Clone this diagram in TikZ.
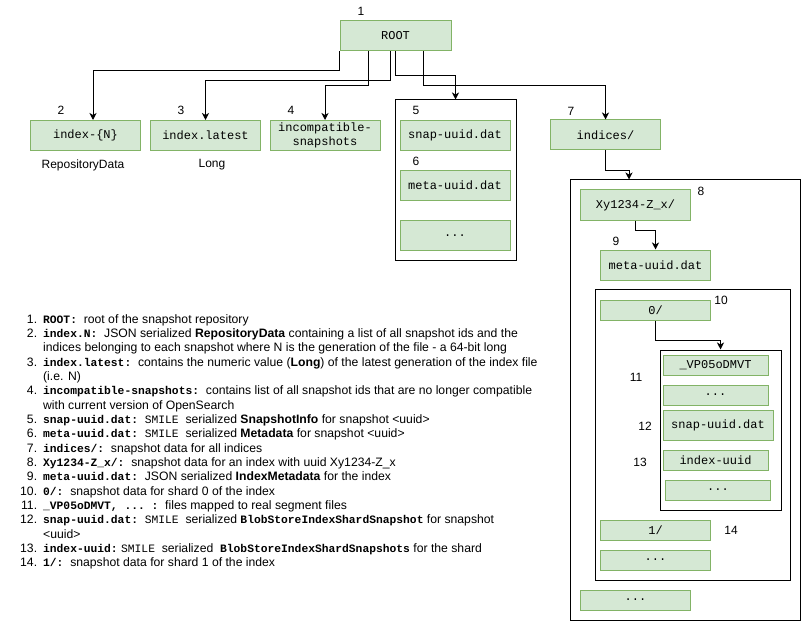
\documentclass[tikz,border=0pt]{standalone}
\usepackage{fontspec}
\setmainfont{Liberation Sans}
\setmonofont{Liberation Mono}
\usetikzlibrary{arrows.meta}

\definecolor{boxfill}{HTML}{D5E8D4}
\definecolor{boxline}{HTML}{82B366}
\newcommand{\fname}[1]{{\fontsize{11.3bp}{14.35bp}\selectfont\ttfamily\bfseries #1}}
\newcommand{\smilefmt}{{\fontsize{11.3bp}{14.35bp}\selectfont\ttfamily SMILE}}

\begin{document}
\begin{tikzpicture}[x=1bp, y=-1bp,
  box/.style={draw=boxline, fill=boxfill, line width=1bp, minimum width=110bp, minimum height=30bp,
    inner sep=0pt, align=center, font=\fontsize{12bp}{14.3bp}\selectfont\ttfamily},
  smallbox/.style={box, minimum height=20bp},
  group/.style={draw=black, line width=1bp, inner sep=0pt},
  num/.style={inner sep=0pt, font=\fontsize{12bp}{14bp}\selectfont},
  link/.style={draw, line width=1bp, -{Stealth[length=7bp, width=7bp, inset=2bp]}}]
\useasboundingbox (0,0) rectangle (801,621);

% Containers
\node[group, minimum width=121bp, minimum height=160bp] (snapgroup) at (455.5,180) {};
\node[group, minimum width=230bp, minimum height=440bp] (idxgroup) at (685,400) {};
\node[group, minimum width=195bp, minimum height=290bp] (shardgroup) at (692.5,435) {};
\node[group, minimum width=121bp, minimum height=160bp] (filegroup) at (720.5,430) {};

% Top level
\node[box, minimum width=111bp] (root) at (395.5,36) {ROOT};
\node[box] (idxn) at (85.5,135.5) {index-\{N\}};
\node[box] (latest) at (205.5,135.5) {index.latest};
\node[box] (incompat) at (325,135.5) {incompatible-\\snapshots};
\node[box] (snap) at (455,135.5) {snap-uuid.dat};
\node[box] (meta) at (455,185.5) {meta-uuid.dat};
\node[box] (dotsa) at (455,235.5) {...};
\node[box] (indices) at (605.5,135) {indices/};

% Index folder
\node[box] (xy) at (635.5,205) {Xy1234-Z\_x/};
\node[box] (imeta) at (655.5,265) {meta-uuid.dat};
\node[smallbox] (shard0) at (655.5,310) {0/};
\node[smallbox, minimum width=105bp] (vp) at (715.5,365) {\_VP05oDMVT};
\node[smallbox, minimum width=105bp] (dotsb) at (715.5,395) {...};
\node[box] (ssnap) at (718,425) {snap-uuid.dat};
\node[smallbox, minimum width=105bp] (iuuid) at (715.5,460) {index-uuid};
\node[smallbox, minimum width=105bp] (dotsc) at (718,490) {...};
\node[smallbox] (shard1) at (655.5,530) {1/};
\node[smallbox] (dotsd) at (655.5,560) {...};
\node[smallbox] (dotse) at (635.5,600) {...};

% Numbers
\node[num] (n1) at (361,11) {1};
\node[num] (n2) at (61,110) {2};
\node[num] (n3) at (181,110) {3};
\node[num] (n4) at (291,110) {4};
\node[num] (n5) at (416,110) {5};
\node[num] (n6) at (416,161) {6};
\node[num] (n7) at (571,111) {7};
\node[num] (n8) at (701,191) {8};
\node[num] (n9) at (616,241) {9};
\node[num] (n10) at (721,300) {10};
\node[num] (n11) at (636,377) {11};
\node[num] (n12) at (645,426) {12};
\node[num] (n13) at (640,462) {13};
\node[num] (n14) at (731,530) {14};
\node[num] (repo) at (83,165) {RepositoryData};
\node[num] (long) at (212,165) {Long};

% Connectors
\draw[link] (root.south west) -- ++(0,19) -| ([xshift=7.5bp]idxn.north);
\draw[link] ([xshift=-5.5bp]root.south) -- ++(0,29) -| (latest.north);
\draw[link] ([xshift=-27.5bp]root.south) -- ++(0,34) -| (incompat.north);
\draw[link] (root.south) -- ++(0,24) -| (snapgroup.north);
\draw[link] ([xshift=27.5bp]root.south) -- ++(0,34) -| (indices.north);
\draw[link] (indices.south) -- ++(0,20) -| ([xshift=-56bp]idxgroup.north);
\draw[link] (xy.south) -- ++(0,10) -| (imeta.north);
\draw[link] (shard0.south) -- ++(0,20) -| (filegroup.north);

% Legend
\node[inner sep=0pt, anchor=base west, font=\fontsize{12.2bp}{14.35bp}\selectfont] (legend) at (20,323) {%
\begin{tabular}[t]{@{}r@{\hspace{6bp}}l@{}}
1. & \fname{ROOT:}\ \ root of the snapshot repository\\
2. & \fname{index.N:}\ \ JSON serialized \textbf{RepositoryData} containing a list of all snapshot ids and the\\
   & indices belonging to each snapshot where N is the generation of the file - a 64-bit long\\
3. & \fname{index.latest:}\ \ contains the numeric value (\textbf{Long}) of the latest generation of the index file\\
   & (i.e. N)\\
4. & \fname{incompatible-snapshots:}\ \ contains list of all snapshot ids that are no longer compatible\\
   & with current version of OpenSearch\\
5. & \fname{snap-uuid.dat:}\ \ \smilefmt\ \ serialized \textbf{SnapshotInfo} for snapshot <uuid>\\
6. & \fname{meta-uuid.dat:}\ \ \smilefmt\ \ serialized \textbf{Metadata} for snapshot <uuid>\\
7. & \fname{indices/:}\ \ snapshot data for all indices\\
8. & \fname{Xy1234-Z\_x/:}\ \ snapshot data for an index with uuid Xy1234-Z\_x\\
9. & \fname{meta-uuid.dat:}\ \ JSON serialized \textbf{IndexMetadata} for the index\\
10. & \fname{0/:}\ \ snapshot data for shard 0 of the index\\
11. & \fname{\_VP05oDMVT, ... :}\ \ files mapped to real segment files\\
12. & \fname{snap-uuid.dat:}\ \ \smilefmt\ \ serialized \fname{BlobStoreIndexShardSnapshot} for snapshot\\
    & <uuid>\\
13. & \fname{index-uuid:}\ \smilefmt\ \ serialized \ \fname{BlobStoreIndexShardSnapshots} for the shard\\
14. & \fname{1/:}\ \ snapshot data for shard 1 of the index
\end{tabular}};
\end{tikzpicture}
\end{document}
